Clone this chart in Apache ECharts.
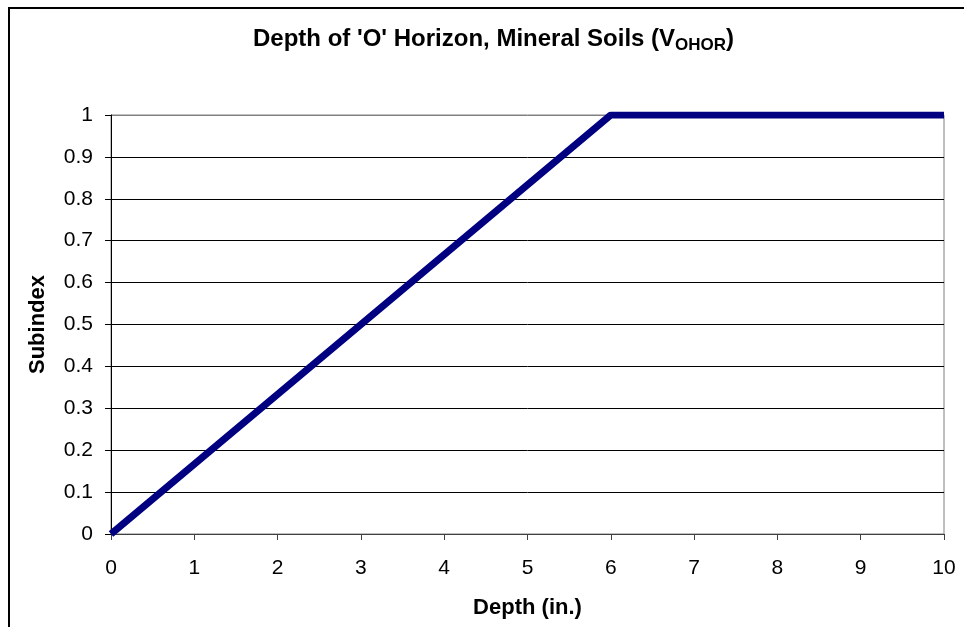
<!DOCTYPE html>
<html>
<head>
<meta charset="utf-8">
<script src="https://cdn.jsdelivr.net/npm/echarts@6/dist/echarts.min.js"></script>
<style>
  html, body { margin: 0; padding: 0; background: #fff; }
  #chart { width: 964px; height: 627px; }
</style>
</head>
<body>
<div id="chart"></div>
<script>
// depth (in.) vs subindex
const depth = [0, 6, 10]
const subindex = [0, 1, 1]

const chart = echarts.init(document.getElementById('chart'))
const font = 'Liberation Sans, Arial, sans-serif'

// grid lines black, the top one (at 1) gray like the plot border
const gridColors = ['#000', '#000', '#000', '#000', '#000', '#000', '#000', '#000', '#000', '#000', '#808080']

chart.setOption({
  animation: false,
  graphic: [{
    type: 'rect',
    shape: { x: 9, y: 8, width: 980, height: 640 },
    style: { fill: 'none', stroke: '#000', lineWidth: 2 },
    silent: true
  }],
  title: {
    text: "Depth of 'O' Horizon, Mineral Soils (V{sub|OHOR})",
    left: 248,
    top: 20,
    textStyle: {
      fontFamily: font,
      fontSize: 24,
      fontWeight: 'bold',
      color: '#000',
      rich: {
        sub: {
          fontFamily: font,
          fontSize: 17,
          fontWeight: 'bold',
          color: '#000',
          padding: [12, 0, 0, 0]
        }
      }
    }
  },
  grid: {
    left: 111,
    right: 20,
    top: 115,
    bottom: 93,
    show: true,
    borderColor: '#808080',
    borderWidth: 1,
    backgroundColor: '#fff'
  },
  xAxis: {
    type: 'value',
    min: 0,
    max: 10,
    interval: 1,
    name: 'Depth (in.)',
    nameLocation: 'middle',
    nameGap: 63,
    nameTextStyle: { fontFamily: font, fontSize: 22, fontWeight: 'bold', color: '#000' },
    axisLine: { show: true, lineStyle: { color: '#404040', width: 1 } },
    axisTick: { show: true, inside: false, length: 6, lineStyle: { color: '#404040' } },
    axisLabel: { fontFamily: font, fontSize: 21, color: '#000', margin: 24 },
    splitLine: { show: false }
  },
  yAxis: {
    type: 'value',
    min: 0,
    max: 1,
    interval: 0.1,
    name: 'Subindex',
    nameLocation: 'middle',
    nameGap: 62,
    nameTextStyle: { fontFamily: font, fontSize: 22, fontWeight: 'bold', color: '#000' },
    axisLine: { show: true, lineStyle: { color: '#000', width: 1 } },
    axisTick: { show: true, inside: false, length: 6, lineStyle: { color: '#000' } },
    axisLabel: {
      fontFamily: font, fontSize: 21, color: '#000', margin: 18,
      formatter: v => String(Math.round(v * 10) / 10)
    },
    splitLine: { show: true, lineStyle: { color: gridColors, width: 1 } }
  },
  series: [{
    type: 'line',
    data: depth.map((d, i) => [d, subindex[i]]),
    symbol: 'none',
    lineStyle: { color: '#000080', width: 7 },
    z: 5
  }]
})
</script>
</body>
</html>
